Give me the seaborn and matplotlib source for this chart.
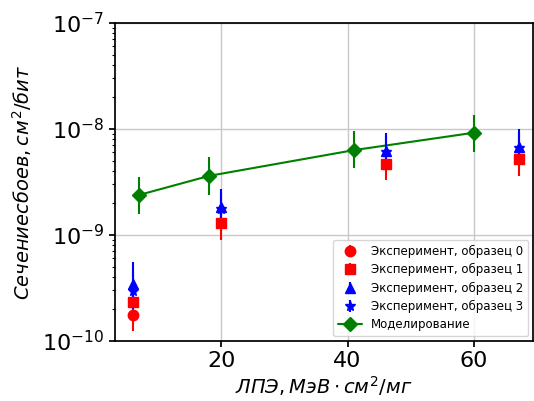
import numpy as np
import seaborn as sns
import matplotlib.pyplot as plt

# sample 0 (circle)
let0 = [6.1]
sig0 = [1.76e-10]
lo0 = [1.24e-10]
hi0 = [2.55e-10]

# sample 1 (square)
let1 = [6.1, 20.0, 46.1, 67.1]
sig1 = [2.33e-10, 1.30e-9, 4.67e-9, 5.2e-9]
lo1 = [1.6e-10, 9.0e-10, 3.3e-9, 3.6e-9]
hi1 = [3.3e-10, 1.76e-9, 6.3e-9, 7.5e-9]

# sample 2 (triangle)
let2 = [6.1, 20.0, 46.1, 67.1]
sig2 = [3.45e-10, 1.85e-9, 6.2e-9, 6.8e-9]
lo2 = [2.3e-10, 1.3e-9, 4.4e-9, 4.8e-9]
hi2 = [5.5e-10, 2.7e-9, 9.2e-9, 1.0e-8]

# sample 3 (star)
let3 = [6.1, 20.0, 46.1, 67.1]
sig3 = [2.95e-10, 1.76e-9, 6.0e-9, 6.6e-9]
lo3 = [2.0e-10, 1.25e-9, 4.3e-9, 4.7e-9]
hi3 = [4.6e-10, 2.5e-9, 8.6e-9, 9.4e-9]

# simulation
let_sim = [7.05, 18.1, 41.0, 60.0]
sig_sim = [2.38e-9, 3.6e-9, 6.3e-9, 9.2e-9]
lo_sim = [1.58e-9, 2.4e-9, 4.3e-9, 6.1e-9]
hi_sim = [3.52e-9, 5.4e-9, 9.6e-9, 1.36e-8]

labels = ["Эксперимент, образец 0", "Эксперимент, образец 1",
          "Эксперимент, образец 2", "Эксперимент, образец 3"]

sns.set_theme(style="ticks", rc={
    "text.color": "black", "axes.labelcolor": "black",
    "xtick.color": "black", "ytick.color": "black",
    "axes.edgecolor": "black",
    "ytick.minor.size": 2.5, "ytick.minor.width": 0.8,
})

fig, ax = plt.subplots(figsize=(5.34, 4.01), dpi=100)
fig.subplots_adjust(left=0.215, right=0.998, top=0.943, bottom=0.15)


def err(y, lo, hi):
    y = np.array(y)
    return [y - np.array(lo), np.array(hi) - y]


series = [
    (let0, sig0, lo0, hi0, "o", "red"),
    (let1, sig1, lo1, hi1, "s", "red"),
    (let2, sig2, lo2, hi2, "^", "blue"),
    (let3, sig3, lo3, hi3, "*", "blue"),
]
for (x, y, lo, hi, m, c), lab in zip(series, labels):
    ax.errorbar(x, y, yerr=err(y, lo, hi), fmt=m, color=c, ms=7.5,
                elinewidth=1.5, label=lab, zorder=3)

ax.errorbar(let_sim, sig_sim, yerr=err(sig_sim, lo_sim, hi_sim), fmt="-D",
            color="green", ms=7.5, lw=1.5, elinewidth=1.5,
            label="Моделирование", zorder=2)

ax.set_yscale("log")
ax.set_ylim(1e-10, 1e-7)
ax.set_xlim(3.2, 69.3)
ax.set_xticks([20, 40, 60])
ax.grid(True, which="major", color="#c8c8c8", lw=1)
ax.tick_params(axis="both", which="major", labelsize=16, length=4)

ax.set_xlabel(r"$ЛПЭ, МэВ \cdot см^2/мг$", fontsize=14, labelpad=2)
ax.set_ylabel(r"$Сечение сбоев, см^2/бит$", fontsize=14, labelpad=6)
ax.legend(loc="lower right", fontsize=8.5, handletextpad=0.8,
          borderaxespad=0.4, labelspacing=0.45)

fig.savefig("out.png", dpi=100)
